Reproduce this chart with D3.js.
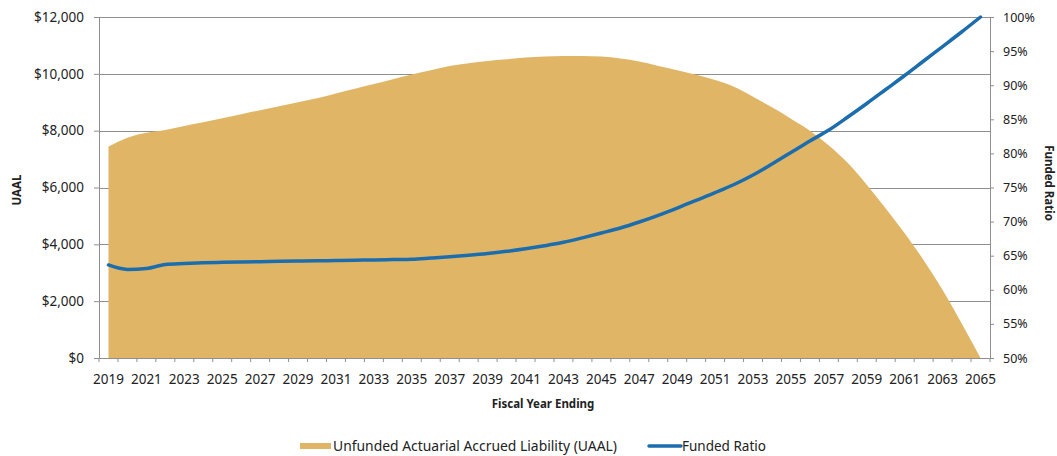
<!DOCTYPE html>
<html>
<head>
<meta charset="utf-8">
<script src="https://cdn.jsdelivr.net/npm/d3@7"></script>
<style>
  html, body { margin: 0; padding: 0; background: #fff; }
  svg { display: block; }
  text { font-family: "Noto Sans", "Open Sans", sans-serif; fill: #222; }
</style>
</head>
<body>
<svg id="chart" width="1057" height="456"></svg>
<script>
// ---------------- data ----------------
const years = d3.range(2019, 2066).map(String);

const uaal = [
  7440, 7755, 7930, 8025, 8165, 8295, 8435, 8580, 8720, 8860,
  9000, 9145, 9310, 9475, 9640, 9810, 9975, 10125, 10280, 10375,
  10455, 10515, 10575, 10610, 10630, 10630, 10610, 10540, 10435, 10280,
  10130, 9965, 9780, 9545, 9197, 8820, 8420, 8000, 7480, 6860,
  6100, 5260, 4390, 3440, 2390, 1220, 0
];

const fundedRatio = [
  63.64, 62.98, 63.12, 63.71, 63.86, 63.97, 64.03, 64.08, 64.13, 64.18,
  64.22, 64.25, 64.30, 64.34, 64.37, 64.43, 64.49, 64.66, 64.84, 65.06,
  65.32, 65.64, 66.01, 66.45, 66.96, 67.62, 68.33, 69.06, 69.94, 70.92,
  71.99, 73.12, 74.25, 75.44, 76.83, 78.45, 80.13, 81.82, 83.43, 85.34,
  87.32, 89.37, 91.42, 93.55, 95.67, 97.80, 100.0
];

const leftTicks = [0, 2000, 4000, 6000, 8000, 10000, 12000];
const rightTicks = [50, 55, 60, 65, 70, 75, 80, 85, 90, 95, 100];
const xLabels = years.filter((d, i) => i % 2 === 0);

const seriesNames = ["Unfunded Actuarial Accrued Liability (UAAL)", "Funded Ratio"];

// ---------------- layout ----------------
const svg = d3.select("#chart");
const plot = { left: 99, right: 990, top: 17, bottom: 358 };
const areaColor = "#E0B666";
const lineColor = "#1C6DAE";
const gridColor = "#8f8f8f";

const x = d3.scaleBand().domain(years).range([plot.left, plot.right]).padding(0);
const cx = d => x(d) + x.bandwidth() / 2;
const yL = d3.scaleLinear().domain([0, 12000]).range([plot.bottom, plot.top]);
const yR = d3.scaleLinear().domain([50, 100]).range([plot.bottom, plot.top]);

const rows = years.map((yr, i) => ({ yr, u: uaal[i], f: fundedRatio[i] }));

// gridlines
svg.append("g").selectAll("line").data(leftTicks.filter(d => d > 0)).join("line")
  .attr("x1", plot.left).attr("x2", plot.right)
  .attr("y1", d => Math.round(yL(d)) + 0.5).attr("y2", d => Math.round(yL(d)) + 0.5)
  .attr("stroke", gridColor).attr("stroke-width", 1);

// area
const area = d3.area()
  .x(d => cx(d.yr))
  .y0(yL(0))
  .y1(d => yL(d.u))
  .curve(d3.curveMonotoneX);
svg.append("path").datum(rows).attr("d", area).attr("fill", areaColor);

// left axis
const axL = svg.append("g").attr("transform", `translate(${plot.left},0)`)
  .call(d3.axisLeft(yL).tickValues(leftTicks).tickSize(5).tickPadding(10)
    .tickFormat(d => "$" + d3.format(",")(d)));
axL.selectAll("path, line").attr("stroke", gridColor);
axL.selectAll("text").style("font-size", "13.5px").attr("fill", "#222");

// right axis
const axR = svg.append("g").attr("transform", `translate(${plot.right},0)`)
  .call(d3.axisRight(yR).tickValues(rightTicks).tickSize(4).tickPadding(9)
    .tickFormat(d => d + "%"));
axR.selectAll("path, line").attr("stroke", gridColor);
axR.selectAll("text").style("font-size", "12.5px").attr("fill", "#222");

// bottom axis: labels every other year, ticks at category boundaries
const axB = svg.append("g").attr("transform", `translate(0,${plot.bottom})`)
  .call(d3.axisBottom(x).tickValues(xLabels).tickSize(0).tickPadding(16));
axB.select("path").attr("stroke", gridColor);
axB.selectAll("text").style("font-size", "13.5px").attr("fill", "#222");
svg.append("g").selectAll("line").data(years.concat(["__end"])).join("line")
  .attr("x1", d => d === "__end" ? plot.right : x(d))
  .attr("x2", d => d === "__end" ? plot.right : x(d))
  .attr("y1", plot.bottom).attr("y2", plot.bottom + 4)
  .attr("stroke", gridColor);

// line
const line = d3.line()
  .x(d => cx(d.yr))
  .y(d => yR(d.f))
  .curve(d3.curveMonotoneX);
svg.append("path").datum(rows).attr("d", line)
  .attr("fill", "none").attr("stroke", lineColor).attr("stroke-width", 3.5)
  .attr("stroke-linecap", "round").attr("stroke-linejoin", "round");

// axis titles
svg.append("text").attr("transform", "translate(21,190) rotate(-90)")
  .attr("text-anchor", "middle").style("font-size", "11.5px").style("font-weight", "bold")
  .text("UAAL");
svg.append("text").attr("transform", "translate(1045,183) rotate(90)")
  .attr("text-anchor", "middle").style("font-size", "11.5px").style("font-weight", "bold")
  .text("Funded Ratio");
svg.append("text").attr("x", 543).attr("y", 408)
  .attr("text-anchor", "middle").style("font-size", "11.5px").style("font-weight", "bold")
  .text("Fiscal Year Ending");

// legend
const lg = svg.append("g");
lg.append("rect").attr("x", 300).attr("y", 443).attr("width", 31).attr("height", 6).attr("fill", areaColor);
lg.append("text").attr("x", 333).attr("y", 451).style("font-size", "13.9px").text(seriesNames[0]);
lg.append("line").attr("x1", 649).attr("x2", 681).attr("y1", 446).attr("y2", 446)
  .attr("stroke", lineColor).attr("stroke-width", 3.5).attr("stroke-linecap", "round");
lg.append("text").attr("x", 682).attr("y", 451).style("font-size", "13.5px").text(seriesNames[1]);
</script>
</body>
</html>
